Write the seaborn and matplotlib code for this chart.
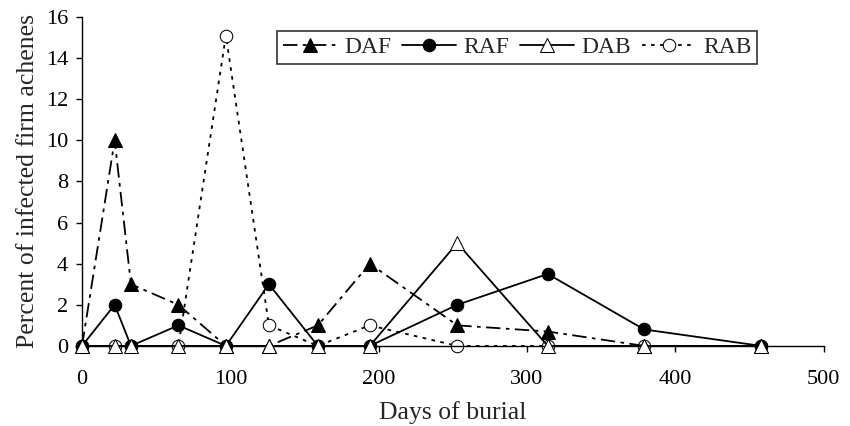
import matplotlib
matplotlib.use("Agg")
import matplotlib.pyplot as plt
import seaborn as sns

# Data
days = [0, 22, 33, 65, 97, 126, 159, 194, 253, 314, 379, 458]
daf = [0, 10, 3, 2, 0, 0, 1, 4, 1, 0.7, 0, 0]
raf = [0, 2, 0, 1, 0, 3, 0, 0, 2, 3.5, 0.8, 0]
dab = [0, 0, 0, 0, 0, 0, 0, 0, 5, 0, 0, 0]
rab = [0, 0, 0, 0, 15.1, 1, 0, 1, 0, 0, 0, 0]

sns.set_style("ticks")
plt.rcParams['font.family'] = ['Liberation Serif', 'DejaVu Serif']
plt.rcParams['font.size'] = 16

fig = plt.figure(figsize=(8.5, 4.26), dpi=100)
ax = fig.add_axes([0.0965, 0.188, 0.8725, 0.772])

ms = 9
sns.lineplot(x=days, y=daf, ax=ax, color='black', lw=1.3, marker='^',
             markersize=ms + 1, markerfacecolor='black', markeredgecolor='black',
             dashes=False, linestyle=(0, (8, 3, 2, 3)), label='DAF',
             clip_on=False, zorder=4)
sns.lineplot(x=days, y=raf, ax=ax, color='black', lw=1.3, marker='o',
             markersize=ms, markerfacecolor='black', markeredgecolor='black',
             label='RAF', clip_on=False, zorder=3)
sns.lineplot(x=days, y=dab, ax=ax, color='black', lw=1.3, marker='^',
             markersize=ms + 1, markerfacecolor='white', markeredgecolor='black',
             label='DAB', clip_on=False, zorder=5)
sns.lineplot(x=days, y=rab, ax=ax, color='black', lw=1.3, marker='o',
             markersize=ms, markerfacecolor='white', markeredgecolor='black',
             dashes=False, linestyle=(0, (2, 3)), label='RAB',
             clip_on=False, zorder=2)

ax.set_xlim(0, 500)
ax.set_ylim(0, 16)
ax.set_xticks(range(0, 501, 100))
ax.set_yticks(range(0, 17, 2))
ax.set_xlabel('Days of burial', fontsize=18.5, labelpad=9)
ax.set_ylabel('Percent of infected firm achenes', fontsize=18.5, labelpad=5)
ax.tick_params(axis='both', direction='out', length=4, width=1, colors='black',
               labelsize=16)
ax.tick_params(axis='x', pad=13)
ax.tick_params(axis='y', pad=6)
for s in ['left', 'bottom']:
    ax.spines[s].set_color('black')
    ax.spines[s].set_linewidth(1)
sns.despine(ax=ax)

leg = ax.legend(ncol=4, loc='upper left', bbox_to_anchor=(0.263, 0.958),
                borderaxespad=0, frameon=True, fancybox=False,
                edgecolor='black', handlelength=2.3, handletextpad=0.3,
                columnspacing=0.45, fontsize=17, borderpad=0.25)
leg.get_frame().set_linewidth(1.2)

fig.savefig('out.png', dpi=100)
